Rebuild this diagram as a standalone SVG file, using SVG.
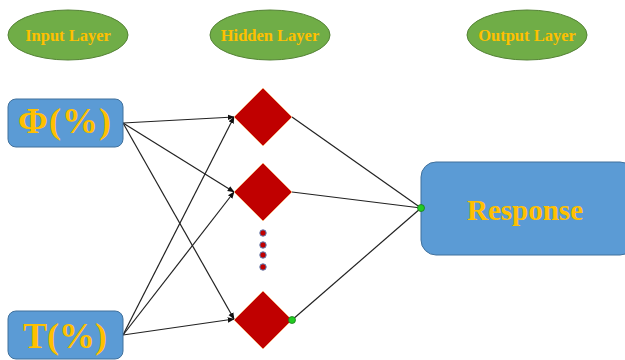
<svg xmlns="http://www.w3.org/2000/svg" width="625" height="360" viewBox="0 0 625 360">
<defs>
<marker id="arr" viewBox="0 0 10 10" refX="9" refY="5" markerWidth="7" markerHeight="7" markerUnits="userSpaceOnUse" orient="auto">
<path d="M0,1 L10,5 L0,9 Z" fill="#111"/>
</marker>
</defs>
<style>
.layer{fill:#70ad47;stroke:#548235;stroke-width:1}
.lt{font-family:"Liberation Serif","Times New Roman",serif;font-weight:bold;font-size:16.5px;fill:#ffc000;text-anchor:middle}
.box{fill:#5b9bd5;stroke:#41719c;stroke-width:1}
.bt{font-family:"Liberation Serif","Times New Roman",serif;font-weight:bold;fill:#ffc000;text-anchor:middle}
.dia{fill:#c00000;stroke:#f4b183;stroke-width:1}
.dot{fill:#c00000;stroke:#5b7fb5;stroke-width:1}
.gdot{fill:#22cc22;stroke:#1a7a1a;stroke-width:0.8}
.c{stroke:#222;stroke-width:1.2;fill:none}
.ca{stroke:#222;stroke-width:1.2;fill:none;marker-end:url(#arr)}
</style>
<rect width="625" height="360" fill="#fff"/>
<g id="input-layer-label"><ellipse class="layer" cx="68" cy="35" rx="60" ry="25"/><text class="lt" x="68" y="41">Input Layer</text></g>
<g id="hidden-layer-label"><ellipse class="layer" cx="270" cy="35" rx="60" ry="25"/><text class="lt" x="270" y="41">Hidden Layer</text></g>
<g id="output-layer-label"><ellipse class="layer" cx="527" cy="35" rx="60" ry="25"/><text class="lt" x="527" y="41">Output Layer</text></g>
<g id="connectors">
<line class="ca" x1="123" y1="123" x2="234" y2="117"/>
<line class="ca" x1="123" y1="123" x2="234" y2="192"/>
<line class="ca" x1="123" y1="123" x2="234" y2="319"/>
<line class="ca" x1="123" y1="335" x2="234" y2="117"/>
<line class="ca" x1="123" y1="335" x2="234" y2="192"/>
<line class="ca" x1="123" y1="335" x2="234" y2="319"/>
<line class="c" x1="292" y1="117" x2="421" y2="208" stroke="#1f3550"/>
<line class="c" x1="292" y1="192" x2="421" y2="208"/>
<line class="c" x1="292" y1="320" x2="421" y2="208"/>
</g>
<g id="input-phi"><rect class="box" x="8" y="99" width="115" height="48" rx="8"/><text class="bt" x="65" y="133" font-size="36" letter-spacing="1">Φ(%)</text></g>
<g id="input-t"><rect class="box" x="8" y="311" width="115" height="48" rx="8"/><text class="bt" x="65" y="348" font-size="36">T(%)</text></g>
<g id="hidden-1"><polygon class="dia" points="263,88 292,117 263,146 234,117"/></g>
<g id="hidden-2"><polygon class="dia" points="263,163 292,192 263,221 234,192"/></g>
<g id="hidden-dots">
<circle class="dot" cx="263" cy="233" r="3.2"/>
<circle class="dot" cx="263" cy="245" r="3.2"/>
<circle class="dot" cx="263" cy="255" r="3.2"/>
<circle class="dot" cx="263" cy="267" r="3.2"/>
</g>
<g id="hidden-n"><polygon class="dia" points="263,291 292,320 263,349 234,320"/><circle class="gdot" cx="292" cy="320" r="3.5"/></g>
<g id="output-response"><rect class="box" x="421" y="162" width="214" height="93" rx="15"/><text class="bt" x="525" y="220" font-size="29">Response</text><circle class="gdot" cx="421" cy="208" r="3.5"/></g>
</svg>
